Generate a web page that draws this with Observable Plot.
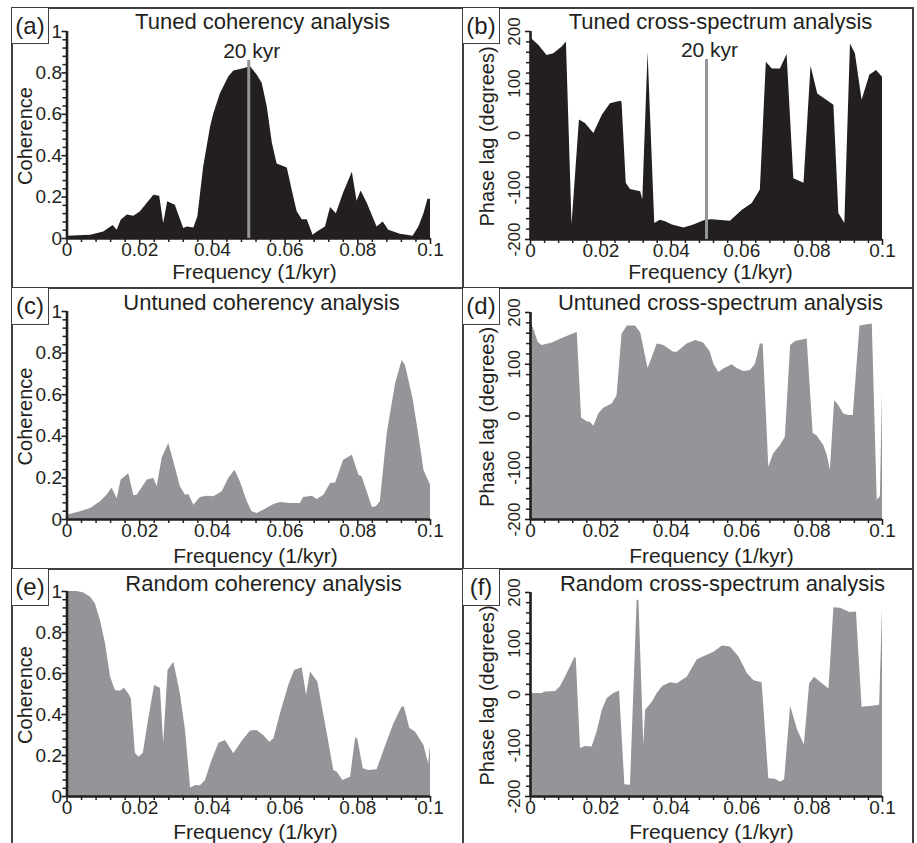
<!DOCTYPE html>
<html><head><meta charset="utf-8">
<script src="https://cdn.jsdelivr.net/npm/d3@7"></script>
<script src="https://cdn.jsdelivr.net/npm/@observablehq/plot@0.6"></script>
<style>
body{margin:0;background:#fff;}
#fig{position:relative;width:917px;height:843px;overflow:hidden;font-family:"Liberation Sans",Arial,Helvetica,sans-serif;color:#231f20;background:#fff;}
.ln{position:absolute;background:#404040;z-index:5;}
.box{position:absolute;border:1.5px solid #404040;box-sizing:border-box;font-size:24px;line-height:1;display:flex;align-items:center;justify-content:center;background:#fff;z-index:6;color:#231f20;}
</style></head><body><div id="fig"></div>
<script>
// ---------- data (frequency in 1/kyr, coherence or phase lag in degrees) ----------
const tunedCohF = [0, 0.0065, 0.0101, 0.0127, 0.0138, 0.0149, 0.0166, 0.0184, 0.0202, 0.0239, 0.0255, 0.0266, 0.0277, 0.0298, 0.0321, 0.0331, 0.0349, 0.036, 0.0376, 0.0395, 0.0404, 0.0422, 0.0445, 0.0459, 0.0486, 0.0505, 0.0523, 0.0537, 0.0551, 0.0565, 0.0578, 0.0606, 0.062, 0.0633, 0.0647, 0.0661, 0.0677, 0.0688, 0.0711, 0.0725, 0.0741, 0.0761, 0.0785, 0.0798, 0.0809, 0.0826, 0.0853, 0.087, 0.0885, 0.0917, 0.0936, 0.0952, 0.0968, 0.0982, 0.0993, 0.1];
const tunedCohV = [0.011, 0.016, 0.032, 0.063, 0.04, 0.088, 0.113, 0.108, 0.129, 0.209, 0.204, 0.072, 0.177, 0.161, 0.048, 0.056, 0.051, 0.105, 0.346, 0.539, 0.603, 0.699, 0.78, 0.809, 0.82, 0.83, 0.79, 0.75, 0.635, 0.46, 0.36, 0.34, 0.23, 0.13, 0.09, 0.09, 0.016, 0.03, 0.056, 0.15, 0.12, 0.22, 0.32, 0.18, 0.23, 0.17, 0.056, 0.08, 0.04, 0.02, 0.016, 0.011, 0.056, 0.12, 0.19, 0.19];

const tunedPhaseF = [0, 0.0024, 0.0047, 0.0066, 0.009, 0.0102, 0.0118, 0.0139, 0.0156, 0.018, 0.0204, 0.0227, 0.0256, 0.026, 0.0272, 0.0284, 0.0313, 0.0319, 0.0334, 0.0353, 0.0369, 0.0384, 0.0403, 0.0436, 0.0464, 0.0497, 0.0516, 0.0568, 0.0601, 0.063, 0.0653, 0.067, 0.0687, 0.071, 0.0729, 0.0748, 0.0777, 0.0797, 0.0816, 0.0862, 0.0876, 0.0893, 0.0909, 0.0923, 0.0942, 0.0964, 0.0983, 0.1];
const tunedPhaseV = [188, 173, 154, 157, 170, 180, -171, 30, 23, 4, 39, 61, 66, 64, -92, -104, -108, -124, 160, -169, -163, -166, -172, -178, -172, -163, -162, -165, -144, -131, -105, 141, 128, 128, 156, -83, -92, 133, 80, 58, -150, -169, 176, 157, 68, 116, 125, 112];

const untunedCohF = [0, 0.0037, 0.0065, 0.0092, 0.011, 0.0124, 0.0138, 0.0149, 0.017, 0.0184, 0.0193, 0.0221, 0.0239, 0.0248, 0.0262, 0.028, 0.0294, 0.0312, 0.0326, 0.0335, 0.0349, 0.0367, 0.0386, 0.0404, 0.0427, 0.0445, 0.0462, 0.0477, 0.0496, 0.0509, 0.0523, 0.0541, 0.0569, 0.0587, 0.0615, 0.0642, 0.0651, 0.0675, 0.0688, 0.0707, 0.0725, 0.0739, 0.0761, 0.0785, 0.0803, 0.0812, 0.084, 0.0851, 0.0862, 0.0881, 0.0904, 0.0922, 0.0931, 0.0952, 0.0968, 0.0982, 0.1];
const untunedCohV = [0.02, 0.037, 0.053, 0.085, 0.117, 0.152, 0.1, 0.19, 0.22, 0.114, 0.117, 0.19, 0.197, 0.157, 0.296, 0.365, 0.277, 0.157, 0.117, 0.12, 0.069, 0.106, 0.112, 0.109, 0.133, 0.197, 0.237, 0.18, 0.085, 0.037, 0.029, 0.045, 0.072, 0.082, 0.077, 0.077, 0.106, 0.112, 0.096, 0.117, 0.173, 0.176, 0.285, 0.309, 0.213, 0.205, 0.058, 0.061, 0.085, 0.413, 0.653, 0.765, 0.741, 0.581, 0.405, 0.237, 0.165];

const untunedPhaseF = [0, 0.0009, 0.0022, 0.0033, 0.0062, 0.009, 0.013, 0.0133, 0.0145, 0.0161, 0.017, 0.018, 0.0194, 0.0208, 0.0232, 0.0246, 0.026, 0.0275, 0.0298, 0.0313, 0.0334, 0.0346, 0.036, 0.0379, 0.0407, 0.0417, 0.0445, 0.0469, 0.0492, 0.0511, 0.0521, 0.0535, 0.0549, 0.0573, 0.0587, 0.0606, 0.0625, 0.0639, 0.0653, 0.0661, 0.0677, 0.0691, 0.071, 0.0724, 0.0739, 0.0753, 0.0786, 0.0803, 0.0814, 0.0833, 0.0843, 0.0852, 0.0864, 0.0876, 0.089, 0.0904, 0.0917, 0.0936, 0.0971, 0.0985, 0.0994, 0.1];
const untunedPhaseV = [187, 168, 142, 136, 141, 150, 161, 161, -4, -11, -12, -20, 4, 15, 23, 39, 158, 174, 174, 161, 92, 113, 139, 136, 123, 123, 139, 146, 141, 123, 100, 84, 91, 99, 92, 86, 88, 100, 139, 139, -99, -73, -57, -41, 136, 144, 149, -34, -38, -57, -76, -105, 30, 20, 4, 1, 1, 174, 178, -163, -156, 43];

const randomCohF = [0, 0.0028, 0.0046, 0.0065, 0.0078, 0.0092, 0.0106, 0.012, 0.0133, 0.0147, 0.0158, 0.017, 0.0177, 0.0188, 0.0198, 0.021, 0.0225, 0.0241, 0.0257, 0.0266, 0.0278, 0.0294, 0.0312, 0.0326, 0.034, 0.0354, 0.0367, 0.0381, 0.0399, 0.0418, 0.0436, 0.0459, 0.0482, 0.0505, 0.0523, 0.0541, 0.0558, 0.0569, 0.0587, 0.061, 0.0626, 0.0647, 0.0659, 0.067, 0.069, 0.0716, 0.0734, 0.0743, 0.0759, 0.078, 0.0794, 0.08, 0.0815, 0.083, 0.0853, 0.0872, 0.0899, 0.0922, 0.0928, 0.0943, 0.0959, 0.0982, 0.0995, 0.1];
const randomCohV = [1, 1, 0.993, 0.972, 0.94, 0.859, 0.745, 0.582, 0.517, 0.514, 0.528, 0.5, 0.476, 0.211, 0.192, 0.211, 0.379, 0.541, 0.528, 0.26, 0.615, 0.655, 0.5, 0.322, 0.041, 0.054, 0.052, 0.078, 0.176, 0.26, 0.273, 0.208, 0.27, 0.319, 0.322, 0.298, 0.265, 0.281, 0.403, 0.541, 0.615, 0.628, 0.493, 0.607, 0.558, 0.306, 0.127, 0.119, 0.078, 0.094, 0.285, 0.281, 0.135, 0.127, 0.13, 0.224, 0.354, 0.436, 0.436, 0.333, 0.314, 0.249, 0.159, 0.249];

const randomPhaseF = [0, 0.0033, 0.0043, 0.0071, 0.0085, 0.0099, 0.0114, 0.0126, 0.013, 0.0142, 0.0156, 0.0175, 0.0189, 0.0204, 0.0218, 0.0237, 0.0253, 0.0268, 0.0284, 0.0303, 0.0308, 0.0322, 0.0327, 0.0346, 0.036, 0.0376, 0.0398, 0.0417, 0.0445, 0.0474, 0.0502, 0.0521, 0.0545, 0.0568, 0.0592, 0.0616, 0.0635, 0.0658, 0.0677, 0.0696, 0.071, 0.0722, 0.0739, 0.0759, 0.0778, 0.0793, 0.0807, 0.0829, 0.0848, 0.0862, 0.0881, 0.0907, 0.0926, 0.0942, 0.0971, 0.0992, 0.1];
const randomPhaseV = [2, 2, 5, 6, 15, 34, 55, 72, 71, -106, -102, -103, -74, -31, -8, 2, 7, -177, -178, 185, 185, -100, -31, -15, 2, 16, 23, 21, 34, 68, 77, 83, 95, 93, 74, 41, 27, 23, -165, -166, -172, -167, -23, -70, -99, 21, 34, 21, 11, 170, 169, 161, 162, -25, -23, -21, 170];

// tick labels and texts
const xMajor = [0, 0.02, 0.04, 0.06, 0.08, 0.1];
const cohTicks = [0, 0.2, 0.4, 0.6, 0.8, 1];
const phaseTicks = [-200, -100, 0, 100, 200];
const panelLetters = ["(a)", "(b)", "(c)", "(d)", "(e)", "(f)"];
const titles = ["Tuned coherency analysis", "Tuned cross-spectrum analysis", "Untuned coherency analysis", "Untuned cross-spectrum analysis", "Random coherency analysis", "Random cross-spectrum analysis"];
const xLabel = "Frequency (1/kyr)";
const cohLabel = "Coherence";
const phaseLabel = "Phase lag (degrees)";
const markerLabel = "20 kyr";
const markerFreq = 0.05;

// ---------- styling ----------
const INK = "#231f20", GRAY = "#939598";
const FONT = "'Liberation Sans', Arial, Helvetica, sans-serif";
const fmt = d => String(+(+d).toFixed(3));
const xMinor = d3.range(26).filter(i => i % 5).map(i => +(i * 0.004).toFixed(4));
const cohMinor = d3.range(26).filter(i => i % 5).map(i => +(i * 0.04).toFixed(4));
const phaseMinor = d3.range(21).filter(i => i % 5).map(i => -200 + i * 20);

const panels = [
  {f: tunedCohF, v: tunedCohV, kind: "coh", fill: INK, left: 0, top: 0, width: 460, height: 285, mL: 66.5, mR: 30, mT: 31, mB: 47,
   titleCx: 262, titleBase: 28, xLabCx: 254, xLabBase: 278, yLabCx: 25, marker: 0.86},
  {f: tunedPhaseF, v: tunedPhaseV, kind: "phase", fill: INK, left: 460, top: 0, width: 457, height: 285, mL: 70, mR: 35, mT: 31, mB: 46,
   titleCx: 720, titleBase: 28, xLabCx: 710, xLabBase: 278, yLabCx: 487.5, marker: 146},
  {f: untunedCohF, v: untunedCohV, kind: "coh", fill: GRAY, left: 0, top: 285, width: 460, height: 280, mL: 66.5, mR: 30, mT: 26, mB: 46,
   titleCx: 261, titleBase: 309, xLabCx: 255, xLabBase: 562, yLabCx: 25},
  {f: untunedPhaseF, v: untunedPhaseV, kind: "phase", fill: GRAY, left: 460, top: 285, width: 457, height: 280, mL: 70, mR: 35, mT: 27, mB: 46,
   titleCx: 720, titleBase: 309, xLabCx: 711, xLabBase: 562, yLabCx: 487.5},
  {f: randomCohF, v: randomCohV, kind: "coh", fill: GRAY, left: 0, top: 565, width: 460, height: 278, mL: 66.5, mR: 30, mT: 26, mB: 47,
   titleCx: 263, titleBase: 590, xLabCx: 255, xLabBase: 838, yLabCx: 25},
  {f: randomPhaseF, v: randomPhaseV, kind: "phase", fill: GRAY, left: 460, top: 565, width: 457, height: 278, mL: 70, mR: 35, mT: 27, mB: 47,
   titleCx: 722, titleBase: 590, xLabCx: 711, xLabBase: 838, yLabCx: 487.5}
];

function makePanel(p, idx) {
  const isPhase = p.kind === "phase";
  const base = isPhase ? -200 : 0;
  const data = p.f.map((x, i) => ({x, y: p.v[i]}));
  const frameTop = p.top + p.mT, frameBottom = p.top + p.height - p.mB;
  const frameLeft = p.left + p.mL, frameRight = p.left + p.width - p.mR;
  const fcx = (frameLeft + frameRight) / 2;
  const marks = [
    Plot.areaY(data, {x: "x", y1: base, y2: "y", fill: p.fill, curve: "linear"}),
    Plot.axisX({ticks: xMinor, tickSize: 4, fill: "none", label: null, stroke: INK, strokeWidth: 1.5}),
    Plot.axisX({ticks: xMajor, tickSize: 6, tickPadding: -2, tickFormat: fmt, fontSize: 19, label: null, stroke: INK, strokeWidth: 1.6, fill: INK}),
    Plot.axisY({ticks: isPhase ? phaseMinor : cohMinor, tickSize: 4, fill: "none", label: null, stroke: INK, strokeWidth: 1.5}),
    isPhase
      ? Plot.axisY({ticks: phaseTicks, tickSize: 5, tickPadding: 6, tickRotate: -90, tickFormat: fmt, fontSize: 17, label: null, stroke: INK, strokeWidth: 1.6, fill: INK})
      : Plot.axisY({ticks: cohTicks, tickSize: 5, tickPadding: 0, tickFormat: fmt, fontSize: 19, label: null, stroke: INK, strokeWidth: 1.6, fill: INK}),
    Plot.ruleY([base], {stroke: INK, strokeWidth: 2.6}),
    Plot.ruleX([0], {stroke: INK, strokeWidth: 2.6}),
    Plot.text([titles[idx]], {text: d => d, frameAnchor: "top", textAnchor: "middle", dx: p.titleCx - fcx, dy: p.titleBase - 7 - frameTop, fontSize: 22, fill: INK, lineAnchor: "middle"}),
    Plot.text([xLabel], {text: d => d, frameAnchor: "bottom", textAnchor: "middle", dx: p.xLabCx - fcx, dy: p.xLabBase - 6.7 - frameBottom, fontSize: 21, fill: INK, lineAnchor: "middle"}),
    Plot.text([isPhase ? phaseLabel : cohLabel], {text: d => d, frameAnchor: "left", textAnchor: "middle", rotate: -90, dx: p.yLabCx - frameLeft, dy: 1, fontSize: 20, fill: INK, lineAnchor: "middle"})
  ];
  if (p.marker !== undefined) {
    marks.push(Plot.ruleX([markerFreq], {y1: base, y2: p.marker, stroke: GRAY, strokeWidth: 3}));
    marks.push(Plot.text([markerLabel], {text: d => d, x: markerFreq, y: p.marker, dx: 3, dy: -9.5, fontSize: 21, fill: INK, lineAnchor: "middle"}));
  }
  const svg = Plot.plot({
    width: p.width, height: p.height,
    marginLeft: p.mL, marginRight: p.mR, marginTop: p.mT, marginBottom: p.mB,
    x: {domain: [0, 0.1]},
    y: {domain: isPhase ? [-200, 200] : [0, 1]},
    style: {fontFamily: FONT, fontSize: "19px", color: INK, background: "transparent", overflow: "visible"},
    marks
  });
  svg.style.position = "absolute";
  svg.style.left = p.left + "px";
  svg.style.top = p.top + "px";
  return svg;
}

const fig = document.getElementById("fig");
panels.forEach((p, i) => fig.appendChild(makePanel(p, i)));

// frame lines
function line(l, t, w, h) {
  const d = document.createElement("div");
  d.className = "ln";
  Object.assign(d.style, {left: l + "px", top: t + "px", width: w + "px", height: h + "px"});
  fig.appendChild(d);
}
line(11, 7, 903, 2);
line(11, 287, 903, 2);
line(11, 568, 903, 2);
line(11, 7, 2, 836);
line(462, 7, 2, 836);
line(912, 7, 2, 836);

// panel letter boxes
const boxes = [[11, 7, 38, 37], [462, 7, 38, 37], [11, 287, 38, 38], [462, 287, 38, 38], [11, 568, 38, 38], [462, 568, 38, 38]];
boxes.forEach(([l, t, w, h], i) => {
  const b = document.createElement("div");
  b.className = "box";
  Object.assign(b.style, {left: l + "px", top: t + "px", width: w + "px", height: h + "px"});
  b.textContent = panelLetters[i];
  fig.appendChild(b);
});
</script>
</body></html>
